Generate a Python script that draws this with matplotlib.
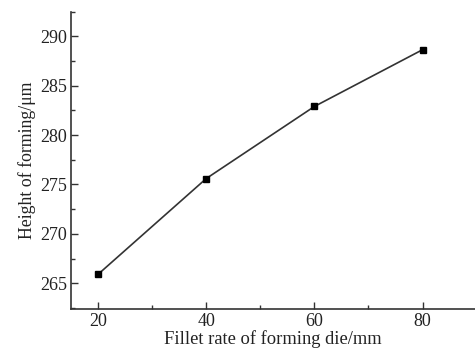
import matplotlib
matplotlib.use("Agg")
import matplotlib.pyplot as plt
from matplotlib.ticker import MultipleLocator

fillet_rate = [20, 40, 60, 80]
height = [265.9, 275.6, 282.9, 288.65]
x_ticks = [20, 40, 60, 80]
y_ticks = [265, 270, 275, 280, 285, 290]

plt.rcParams['font.family'] = ['Liberation Serif', 'DejaVu Serif']

W, H = 475, 352
fig = plt.figure(figsize=(W / 100, H / 100), dpi=100)
ax = fig.add_axes([71 / W, 1 - 309.3 / H, (W - 71) / W, (309.3 - 11.7) / H])

ax.plot(fillet_rate, height, color='#333333', lw=1.2, marker='s', ms=4.5,
        mfc='black', mec='black')

ax.set_xlim(15, 89.7)
ax.set_ylim(262.36, 292.5)
ax.set_xticks(x_ticks)
ax.set_yticks(y_ticks)
ax.xaxis.set_minor_locator(MultipleLocator(10))
ax.yaxis.set_minor_locator(MultipleLocator(2.5))
ax.tick_params(which='both', direction='in', labelsize=13, width=1, colors='#333333', labelcolor='#222222')
ax.tick_params(which='major', length=5, pad=3)
ax.tick_params(which='minor', length=3)
ax.spines['top'].set_visible(False)
ax.spines['right'].set_visible(False)
for s in ('left', 'bottom'):
    ax.spines[s].set_color('#333333')
    ax.spines[s].set_linewidth(1.2)

ax.set_xlabel('Fillet rate of forming die/mm', fontsize=13.3, labelpad=0, color='#222222')
ax.set_ylabel('Height of forming/μm', fontsize=12.8, labelpad=3, color='#222222')

fig.savefig('out.png', dpi=100)
